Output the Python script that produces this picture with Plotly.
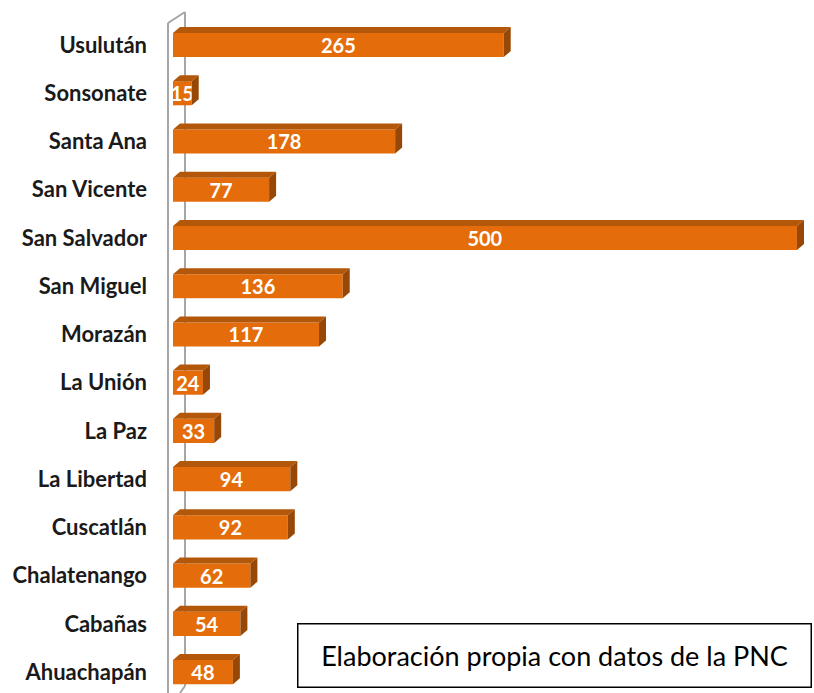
import plotly.graph_objects as go

# Data (bottom to top)
provinces = ["Ahuachapán", "Cabañas", "Chalatenango", "Cuscatlán", "La Libertad",
             "La Paz", "La Unión", "Morazán", "San Miguel", "San Salvador",
             "San Vicente", "Santa Ana", "Sonsonate", "Usulután"]
values = [48, 54, 62, 92, 94, 33, 24, 117, 136, 500, 77, 178, 15, 265]
note_text = "Elaboración propia con datos de la PNC"

positions = list(range(len(provinces)))

FRONT = "#E46C0A"
TOP = "#B3570A"
SIDE = "#974806"
WALL = "#A6A6A6"

W, H = 814, 693
ML = 150
PX_X = 1.248                 # pixels per value unit
X0 = -23 / PX_X              # left edge of plot in data units
X1 = X0 + (W - ML) / PX_X
Y1 = 13 + 45 / 48.24
Y0 = Y1 - H / 48.24
PX_Y = H / (Y1 - Y0)

HALF = 0.25
DX = 7 / PX_X
DY = 6 / PX_Y


def px_to_x(px):
    return X0 + (px - ML) / PX_X


def px_to_y(py):
    return Y1 - py / PX_Y


fig = go.Figure()
fig.add_trace(go.Bar(
    y=positions, x=values, orientation="h", width=2 * HALF,
    marker=dict(color=FRONT, line=dict(width=0)),
    text=[str(v) for v in values], textposition="inside", textangle=0,
    insidetextanchor="middle", constraintext="none",
    textfont=dict(family="Lato", size=20, color="white", weight="bold"),
    hoverinfo="skip",
))

shapes = []
# Wall lines
xl, xb = px_to_x(168), px_to_x(185)
shapes.append(dict(type="line", xref="x", yref="y", x0=xl, x1=xl, y0=px_to_y(23), y1=px_to_y(H + 5),
                   line=dict(color=WALL, width=2), layer="below"))
shapes.append(dict(type="line", xref="x", yref="y", x0=xl, x1=xb, y0=px_to_y(23), y1=px_to_y(12),
                   line=dict(color=WALL, width=2), layer="below"))
shapes.append(dict(type="line", xref="x", yref="y", x0=xb, x1=xb, y0=px_to_y(12), y1=px_to_y(686),
                   line=dict(color=WALL, width=2), layer="below"))
shapes.append(dict(type="line", xref="x", yref="y", x0=xb, x1=xb - 5 / PX_X, y0=px_to_y(686), y1=px_to_y(693),
                   line=dict(color=WALL, width=2), layer="below"))

# 3D faces of bars
for p, v in zip(positions, values):
    t = p + HALF
    b = p - HALF
    top_path = f"M 0 {t} L {v} {t} L {v + DX} {t + DY} L {DX} {t + DY} Z"
    side_path = f"M {v} {b} L {v} {t} L {v + DX} {t + DY} L {v + DX} {b + DY} Z"
    shapes.append(dict(type="path", xref="x", yref="y", path=top_path,
                       fillcolor=TOP, line=dict(width=0), layer="above"))
    shapes.append(dict(type="path", xref="x", yref="y", path=side_path,
                       fillcolor=SIDE, line=dict(width=0), layer="above"))

fig.update_layout(
    width=W, height=H,
    margin=dict(l=ML, r=0, t=0, b=0),
    plot_bgcolor="white", paper_bgcolor="white",
    showlegend=False,
    shapes=shapes,
    xaxis=dict(range=[X0, X1], visible=False, showgrid=False, zeroline=False),
    yaxis=dict(range=[Y0, Y1], tickmode="array", tickvals=positions, ticktext=provinces,
               showgrid=False, zeroline=False, showline=False, ticks="",
               tickfont=dict(family="Lato", size=22, color="#1a1a1a", weight="bold"),
               ticklabelstandoff=2),
    annotations=[dict(
        xref="paper", yref="paper", x=(297 - ML) / (W - ML), y=1 - 688 / H,
        xanchor="left", yanchor="bottom", showarrow=False,
        text=note_text, align="center", width=508, height=58,
        bordercolor="black", borderwidth=1.5, borderpad=2, bgcolor="white",
        font=dict(family="Lato", size=27, color="black"),
    )],
)

fig.write_html("out.html", config={"displayModeBar": False},
               post_script="document.body.style.margin='0';document.body.style.padding='0';")
